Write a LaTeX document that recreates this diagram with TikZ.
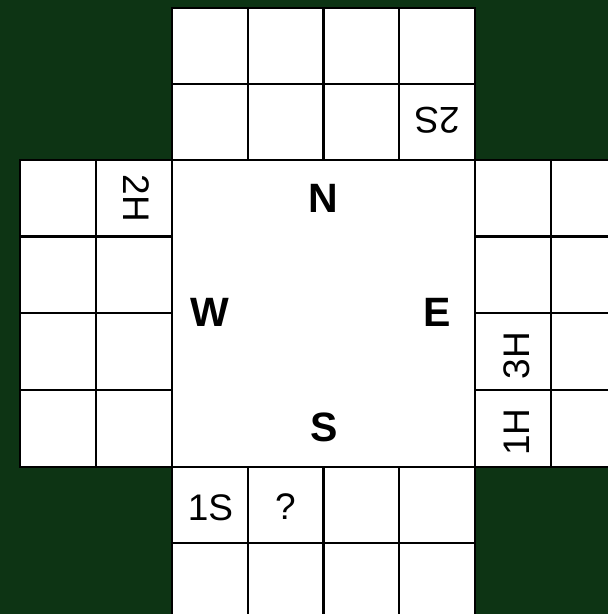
\documentclass[tikz,border=0pt]{standalone}
\usepackage{fontspec}
\setmainfont{Liberation Sans}
\definecolor{bg}{RGB}{13,52,20}
\begin{document}
\begin{tikzpicture}[x=1pt,y=-1pt,
  cellline/.style={line width=2.6pt, draw=black, fill=white},
  lbl/.style={font=\fontsize{37}{42}\selectfont, inner sep=0pt},
  dirlbl/.style={font=\fontsize{41}{48}\selectfont\bfseries, inner sep=0pt}]
\useasboundingbox (0,0) rectangle (608,614);
\fill[bg] (0,0) rectangle (608,614);
% top block
\foreach \xa/\xb in {172/248,248/323.5,323.5/399,399/475}
  \foreach \ya/\yb in {8/84,84/160}
    \draw[cellline] (\xa,\ya) rectangle (\xb,\yb);
% bottom block
\foreach \xa/\xb in {172/248,248/323.5,323.5/399,399/475}
  \foreach \ya/\yb in {467/543,543/620}
    \draw[cellline] (\xa,\ya) rectangle (\xb,\yb);
% left block
\foreach \xa/\xb in {20/96,96/172}
  \foreach \ya/\yb in {160/236.5,236.5/313,313/390,390/467}
    \draw[cellline] (\xa,\ya) rectangle (\xb,\yb);
% right block
\foreach \xa/\xb in {475/551,551/627}
  \foreach \ya/\yb in {160/236.5,236.5/313,313/390,390/467}
    \draw[cellline] (\xa,\ya) rectangle (\xb,\yb);
% centre
\draw[cellline] (172,160) rectangle (475,467);
% compass letters
\node[dirlbl] (n) at (323.5,198) {N};
\node[dirlbl] (w) at (210,312) {W};
\node[dirlbl] (e) at (437.5,312) {E};
\node[dirlbl] (s) at (324,427.5) {S};
% cell labels
\node[lbl, rotate=180] (l2s) at (437,120.5) {2S};
\node[lbl, rotate=-90] (l2h) at (136,198.5) {2H};
\node[lbl, rotate=90] (l3h) at (516.5,355.5) {3H};
\node[lbl, rotate=90] (l1h) at (516.5,432) {1H};
\node[lbl] (l1s) at (210.5,507.5) {1S};
\node[lbl] (lq) at (285.5,507) {?};
\end{tikzpicture}
\end{document}
